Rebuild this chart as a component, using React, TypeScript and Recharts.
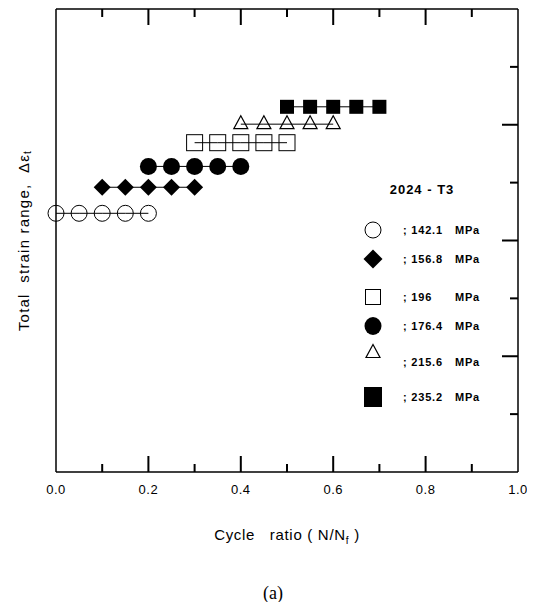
import React from "react";
import { ScatterChart, Scatter, XAxis, YAxis, Legend, ReferenceLine } from "recharts";

// cycle ratio N/Nf at which each stress level was sampled
const cycleRatio1421 = [0, 0.05, 0.1, 0.15, 0.2];
const cycleRatio1568 = [0.1, 0.15, 0.2, 0.25, 0.3];
const cycleRatio1764 = [0.2, 0.25, 0.3, 0.35, 0.4];
const cycleRatio196 = [0.3, 0.35, 0.4, 0.45, 0.5];
const cycleRatio2156 = [0.4, 0.45, 0.5, 0.55, 0.6];
const cycleRatio2352 = [0.5, 0.55, 0.6, 0.65, 0.7];

const stressLevels = ["142.1", "156.8", "176.4", "196", "215.6", "235.2"];
// total strain range for each level (axis units, no scale printed)
const strainRange = [4.47, 4.92, 5.28, 5.69, 6.01, 6.31];
const legendOrder = ["142.1", "156.8", "196", "176.4", "215.6", "235.2"];

const xTicks = [0, 0.1, 0.2, 0.3, 0.4, 0.5, 0.6, 0.7, 0.8, 0.9, 1];
const yTicks = [1, 2, 3, 4, 5, 6, 7];

type MarkerKind =
  | "openCircle"
  | "diamond"
  | "filledCircle"
  | "openSquare"
  | "openTriangle"
  | "filledSquare";

const markerByLevel: Record<string, MarkerKind> = {
  "142.1": "openCircle",
  "156.8": "diamond",
  "176.4": "filledCircle",
  "196": "openSquare",
  "215.6": "openTriangle",
  "235.2": "filledSquare",
};

const ratiosByLevel: Record<string, number[]> = {
  "142.1": cycleRatio1421,
  "156.8": cycleRatio1568,
  "176.4": cycleRatio1764,
  "196": cycleRatio196,
  "215.6": cycleRatio2156,
  "235.2": cycleRatio2352,
};

const series = stressLevels.map((level, i) => ({
  level,
  data: ratiosByLevel[level].map((x) => ({ x, y: strainRange[i] })),
}));

const FONT = "'Liberation Sans', Arial, sans-serif";
const INK = "#000";
const TICK_W = 2;
const PRE = { whiteSpace: "pre" as const };

function renderMarker(kind: MarkerKind, cx: number, cy: number, inLegend = false) {
  switch (kind) {
    case "openCircle":
      return <circle cx={cx} cy={cy} r={8} fill="none" stroke={INK} strokeWidth={1} />;
    case "diamond": {
      const h = inLegend ? 9.5 : 8.5;
      return (
        <polygon
          points={`${cx},${cy - h} ${cx + h},${cy} ${cx},${cy + h} ${cx - h},${cy}`}
          fill={INK}
        />
      );
    }
    case "filledCircle":
      return inLegend ? (
        <ellipse cx={cx} cy={cy} rx={8.5} ry={9} fill={INK} />
      ) : (
        <circle cx={cx} cy={cy} r={8.5} fill={INK} />
      );
    case "openSquare": {
      const s = inLegend ? 15 : 16;
      return (
        <rect x={cx - s / 2} y={cy - s / 2} width={s} height={s} fill="none" stroke={INK} strokeWidth={1} />
      );
    }
    case "openTriangle":
      return (
        <polygon
          points={`${cx},${cy - 8.5} ${cx + 7},${cy + 4.5} ${cx - 7},${cy + 4.5}`}
          fill="none"
          stroke={INK}
          strokeWidth={1.2}
        />
      );
    case "filledSquare":
      return inLegend ? (
        <rect x={cx - 9} y={cy - 10} width={18} height={20} fill={INK} />
      ) : (
        <rect x={cx - 7} y={cy - 7} width={14} height={14} fill={INK} />
      );
  }
}

const isMajor = (v: number) => Math.round(v * 10) % 2 === 0;
const isEdge = (v: number) => v <= 0 || v >= 1;
const tickLen = (major: boolean) => (major ? 16 : 8);

// tick marks as thin filled bars
const vTick = (x: number, yFrom: number, len: number) => (
  <rect x={x - TICK_W / 2} y={Math.min(yFrom, yFrom + len)} width={TICK_W} height={Math.abs(len)} fill={INK} />
);

function BottomTick(props: any) {
  const { x, y, payload } = props;
  const v = payload.value as number;
  return (
    <g>
      {!isEdge(v) && vTick(x, y, -tickLen(isMajor(v)))}
      {isMajor(v) && (
        <text x={x} y={y + 22} textAnchor="middle" fontFamily={FONT} fontSize={13} letterSpacing={0.5} fill={INK}>
          {v.toFixed(1)}
        </text>
      )}
    </g>
  );
}

function RightTick(props: any) {
  const { x, y, payload } = props;
  const len = tickLen((payload.value as number) % 2 === 0);
  return <rect x={x - len} y={y - TICK_W / 2} width={len} height={TICK_W} fill={INK} />;
}

// inward tick hanging from the top frame edge
const topTickShape = (len: number) => (p: any) => vTick(p.x1, Math.min(p.y1, p.y2), len);

function renderXTitle(props: any) {
  const { x, y, width } = props.viewBox;
  return (
    <text
      x={x + width / 2}
      y={y + 68}
      textAnchor="middle"
      fontFamily={FONT}
      fontSize={15}
      letterSpacing={0.7}
      fill={INK}
      style={PRE}
    >
      {"Cycle   ratio ( N/N"}
      <tspan dy={4} fontSize={10}>f</tspan>
      <tspan dy={-4}>{" )"}</tspan>
    </text>
  );
}

function renderYTitle(props: any) {
  const { x, y, height } = props.viewBox;
  const cx = x + 15;
  const cy = y + height / 2;
  return (
    <text
      x={cx}
      y={cy}
      transform={`rotate(-90, ${cx}, ${cy})`}
      textAnchor="middle"
      dominantBaseline="central"
      fontFamily={FONT}
      fontSize={15}
      letterSpacing={1.2}
      fill={INK}
      style={PRE}
    >
      {"Total  strain range,  \u0394\u03b5"}
      <tspan dy={4} fontSize={10}>t</tspan>
    </text>
  );
}

// legend rows, top to bottom (triangle symbol sits a little above its label)
const legendRowY = [60, 89, 127, 156, 192, 227];

function LegendBox() {
  return (
    <svg width={170} height={240}>
      <text x={72} y={24} textAnchor="middle" fontFamily={FONT} fontSize={13} fontWeight="bold" letterSpacing={1} fill={INK} style={PRE}>
        2024 - T3
      </text>
      {legendOrder.map((level, i) => {
        const kind = markerByLevel[level];
        const rowY = legendRowY[i];
        const symY = kind === "openTriangle" ? rowY - 9 : rowY;
        return (
          <g key={level}>
            {renderMarker(kind, 23, symY, true)}
            <text x={53} y={rowY + 4} fontFamily={FONT} fontSize={11} fontWeight="bold" letterSpacing={0.8} fill={INK} style={PRE}>
              {`; ${level}`}
            </text>
            <text x={105} y={rowY + 4} fontFamily={FONT} fontSize={11} fontWeight="bold" letterSpacing={0.8} fill={INK}>
              MPa
            </text>
          </g>
        );
      })}
    </svg>
  );
}

export default function App() {
  return (
    <div style={{ width: 527 }}>
      <ScatterChart width={527} height={560} margin={{ top: 1, right: 16, bottom: 16, left: 0 }}>
        <XAxis
          type="number"
          dataKey="x"
          domain={[0, 1]}
          ticks={xTicks}
          interval={0}
          height={80}
          tickSize={0}
          tickMargin={0}
          tickLine={false}
          axisLine={{ stroke: INK, strokeWidth: 1.5 }}
          tick={BottomTick}
          label={renderXTitle}
        />
        <YAxis
          type="number"
          dataKey="y"
          domain={[0, 8]}
          width={48}
          tick={false}
          tickLine={false}
          axisLine={{ stroke: INK, strokeWidth: 1.5 }}
          label={renderYTitle}
        />
        {/* right frame edge with inward ticks */}
        <YAxis
          yAxisId="right"
          orientation="right"
          type="number"
          domain={[0, 8]}
          allowDataOverflow
          ticks={yTicks}
          interval={0}
          width={1}
          tickSize={0}
          tickMargin={0}
          tickLine={false}
          axisLine={{ stroke: INK, strokeWidth: 1.5 }}
          tick={RightTick}
        />
        {/* top frame edge and its ticks */}
        <ReferenceLine y={8} stroke={INK} strokeWidth={1.5} />
        {xTicks
          .filter((v) => !isEdge(v))
          .map((v) => (
            <ReferenceLine key={`t${v}`} x={v} shape={topTickShape(tickLen(isMajor(v)))} />
          ))}
        {series.map((s) => (
          <Scatter
            key={s.level}
            name={`${s.level} MPa`}
            data={s.data}
            line={{ stroke: INK, strokeWidth: 1 }}
            shape={(p: any) => renderMarker(markerByLevel[s.level], p.cx, p.cy)}
            isAnimationActive={false}
          />
        ))}
        <Legend
          layout="vertical"
          align="center"
          verticalAlign="middle"
          content={() => <LegendBox />}
          wrapperStyle={{ left: 342, top: 162, width: 170, height: 240 }}
        />
      </ScatterChart>
      <div
        style={{
          marginTop: 16,
          paddingLeft: 3,
          textAlign: "center",
          fontFamily: "'Liberation Serif', 'Times New Roman', serif",
          fontSize: 18,
          lineHeight: "18px",
        }}
      >
        (a)
      </div>
    </div>
  );
}
